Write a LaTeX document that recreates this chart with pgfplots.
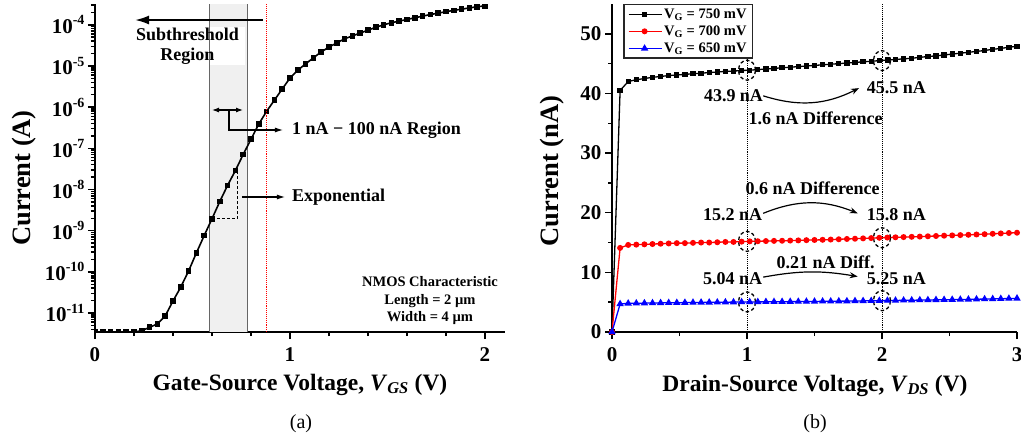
\documentclass[border=0pt]{standalone}
\usepackage{fontspec}
\setmainfont{Liberation Serif}
\usepackage{pgfplots}
\usepackage{pgfplotstable}
\pgfplotsset{compat=1.18}
\usetikzlibrary{arrows.meta}

\newcommand{\tickfont}{\fontsize{21}{24}\selectfont\bfseries}
\newcommand{\annfont}{\fontsize{18}{21}\selectfont\bfseries}
\newcommand{\smfont}{\fontsize{14.5}{17.5}\selectfont\bfseries}
\newcommand{\xlabfont}{\fontsize{23.5}{28}\selectfont\bfseries}
\newcommand{\ylabfont}{\fontsize{26.5}{30}\selectfont\bfseries}
\newcommand{\sx}[1]{\raisebox{0.42em}{\fontsize{14}{14}\selectfont\bfseries #1}}

\pgfplotstableread{
x y
0.00 3.45e-12
0.04 3.45e-12
0.08 3.45e-12
0.12 3.45e-12
0.16 3.45e-12
0.20 3.45e-12
0.24 3.7e-12
0.28 4.5e-12
0.32 5.4e-12
0.36 8.5e-12
0.40 1.95e-11
0.44 4.27e-11
0.48 1.05e-10
0.52 2.88e-10
0.56 7.6e-10
0.60 1.95e-9
0.64 5.1e-9
0.68 1.26e-8
0.72 2.88e-8
0.76 7.1e-8
0.80 1.66e-7
0.84 3.9e-7
0.88 7.9e-7
0.92 1.48e-6
0.96 2.75e-6
1.00 5.1e-6
1.04 7.9e-6
1.08 1.12e-5
1.12 1.58e-5
1.16 2.19e-5
1.20 2.88e-5
1.24 3.63e-5
1.28 4.57e-5
1.32 5.37e-5
1.36 6.31e-5
1.40 7.41e-5
1.44 8.71e-5
1.48 1.0e-4
1.52 1.12e-4
1.56 1.23e-4
1.60 1.35e-4
1.64 1.48e-4
1.68 1.62e-4
1.72 1.78e-4
1.76 1.91e-4
1.80 2.09e-4
1.84 2.24e-4
1.88 2.40e-4
1.92 2.57e-4
1.96 2.75e-4
2.00 2.88e-4
}\ida

\pgfplotstableread{
x k r b
0.00 0 0 0
0.06 40.5 14.1 4.7
0.12 42.0 14.6 4.8
0.18 42.3 14.65 4.82
0.24 42.5 14.7 4.84
0.30 42.7 14.75 4.86
0.36 42.85 14.8 4.88
0.42 43.0 14.85 4.9
0.48 43.1 14.9 4.91
0.54 43.2 14.9 4.93
0.60 43.3 14.95 4.94
0.66 43.4 15.0 4.96
0.72 43.5 15.0 4.97
0.78 43.6 15.05 4.98
0.84 43.7 15.1 5.0
0.90 43.75 15.1 5.01
0.96 43.85 15.15 5.03
1.02 43.9 15.2 5.04
1.08 44.0 15.22 5.05
1.14 44.1 15.25 5.06
1.20 44.2 15.28 5.07
1.26 44.3 15.3 5.08
1.32 44.4 15.33 5.09
1.38 44.5 15.36 5.1
1.44 44.6 15.4 5.11
1.50 44.7 15.43 5.12
1.56 44.8 15.46 5.14
1.62 44.9 15.5 5.15
1.68 45.0 15.55 5.17
1.74 45.1 15.6 5.18
1.80 45.2 15.64 5.2
1.86 45.3 15.7 5.22
1.92 45.4 15.75 5.23
1.98 45.5 15.8 5.25
2.04 45.6 15.84 5.27
2.10 45.7 15.88 5.29
2.16 45.8 15.92 5.31
2.22 45.9 15.96 5.33
2.28 46.05 16.0 5.35
2.34 46.2 16.05 5.37
2.40 46.3 16.1 5.39
2.46 46.45 16.15 5.41
2.52 46.6 16.2 5.43
2.58 46.75 16.25 5.45
2.64 46.9 16.3 5.47
2.70 47.05 16.35 5.5
2.76 47.2 16.4 5.52
2.82 47.4 16.47 5.55
2.88 47.55 16.53 5.58
2.94 47.75 16.6 5.61
3.00 47.9 16.65 5.64
}\idb

\pgfplotsset{
  mystyle/.style={
    scale only axis, anchor=south west,
    axis lines*=left, axis line style={line width=2pt,-},
    tick align=outside, major tick length=7pt, minor tick length=4pt,
    every tick/.style={black, line width=1.4pt},
    ticklabel style={font=\tickfont},
    /pgf/number format/assume math mode=true,
  }
}

\begin{document}
\begin{tikzpicture}
\useasboundingbox (0pt,0pt) rectangle (1021pt,440pt);

% ---------------- panel (a)
\begin{axis}[mystyle,
  at={(95pt,108pt)}, width=410pt, height=328pt,
  xmin=0, xmax=2.1026, ymode=log, ymin=3.45e-12, ymax=3.2e-4,
  xtick={0,1,2}, minor xtick={0.2,0.4,0.6,0.8,1.2,1.4,1.6,1.8},
  ytick={1e-11,1e-10,1e-9,1e-8,1e-7,1e-6,1e-5,1e-4},
  yticklabels={10\sx{-11},10\sx{-10},10\sx{-9},10\sx{-8},10\sx{-7},10\sx{-6},10\sx{-5},10\sx{-4}},
  minor ytick={4e-12,5e-12,6e-12,7e-12,8e-12,9e-12,
    2e-11,3e-11,4e-11,5e-11,6e-11,7e-11,8e-11,9e-11,
    2e-10,3e-10,4e-10,5e-10,6e-10,7e-10,8e-10,9e-10,
    2e-9,3e-9,4e-9,5e-9,6e-9,7e-9,8e-9,9e-9,
    2e-8,3e-8,4e-8,5e-8,6e-8,7e-8,8e-8,9e-8,
    2e-7,3e-7,4e-7,5e-7,6e-7,7e-7,8e-7,9e-7,
    2e-6,3e-6,4e-6,5e-6,6e-6,7e-6,8e-6,9e-6,
    2e-5,3e-5,4e-5,5e-5,6e-5,7e-5,8e-5,9e-5,
    2e-4,3e-4},
  xticklabel style={yshift=-5pt},
  clip marker paths=true,
]
\fill[black!6] (rel axis cs:0.2782,0) rectangle (rel axis cs:0.371,1);
\fill[white] (rel axis cs:0.2805,0.814) rectangle (rel axis cs:0.366,0.930);
\draw[black!60, line width=0.9pt] (rel axis cs:0.2782,0) -- (rel axis cs:0.2782,1);
\draw[black!60, line width=0.9pt] (rel axis cs:0.371,0) -- (rel axis cs:0.371,1);
\addplot[draw=black, line width=1.6pt, mark=square*, mark size=2pt, mark options={solid, draw=black, fill=black}] table[x=x,y=y] {\ida};
\begin{scope}
\draw[color=red, densely dotted, line width=0.9pt] (rel axis cs:0.4185,0) -- (rel axis cs:0.4185,1);
\end{scope}
\node[font=\annfont, align=center, inner sep=0pt, text=black] at (rel axis cs:0.2256,0.872) {Subthreshold\\[-1pt]Region};
\draw[black, line width=2pt, -{Latex[length=14pt,width=9pt]}] (rel axis cs:0.4098,0.9512) -- (rel axis cs:0.0976,0.9512);
\draw[black, line width=1.1pt, {Latex[length=7pt,width=5pt]}-{Latex[length=7pt,width=5pt]}] (rel axis cs:0.2854,0.6768) -- (rel axis cs:0.361,0.6768);
\draw[black, line width=1.1pt, -{Latex[length=8pt,width=5pt]}] (rel axis cs:0.3268,0.6768) -- (rel axis cs:0.3268,0.6159) -- (rel axis cs:0.4585,0.6159);
\node[font=\annfont, anchor=west, inner sep=0pt] at (rel axis cs:0.4805,0.6159) {1 nA − 100 nA Region};
\draw[black, line width=1.1pt, -{Latex[length=8pt,width=5pt]}] (rel axis cs:0.3585,0.4116) -- (rel axis cs:0.4634,0.4116);
\node[font=\annfont, anchor=west, inner sep=0pt] at (rel axis cs:0.4805,0.4116) {Exponential};
\draw[black, line width=1.1pt, dash pattern=on 3pt off 2pt] (axis cs:0.6,1.95e-9) -- (axis cs:0.73,1.95e-9) -- (axis cs:0.73,2.88e-8);
\node[font=\smfont, align=center, inner sep=0pt] at (rel axis cs:0.817,0.0945) {NMOS Characteristic\\Length = 2 µm\\Width = 4 µm};
\end{axis}

% ---------------- panel (b)
\begin{axis}[mystyle,
  at={(612pt,108pt)}, width=405pt, height=328pt,
  xmin=0, xmax=3, ymin=0, ymax=55,
  xtick={0,1,2,3}, minor xtick={0.5,1.5,2.5},
  ytick={0,10,20,30,40,50}, minor ytick={5,15,25,35,45},
  xticklabel style={yshift=-5pt},
  legend style={at={(0.028,1)}, anchor=north west, draw=black!85, line width=1.2pt,
    font=\smfont, fill=white, inner xsep=4pt, inner ysep=2pt, row sep=2pt,
    cells={anchor=west}},
  legend image code/.code={\draw[mark repeat=2,mark phase=2,#1] plot coordinates {(0pt,0pt) (16pt,0pt) (33pt,0pt)};},
]
\draw[black, densely dotted, line width=0.9pt] (axis cs:1,0) -- (axis cs:1,55);
\draw[black, densely dotted, line width=0.9pt] (axis cs:2,0) -- (axis cs:2,55);
\addplot[black, line width=1.3pt, mark=square*, mark size=2pt] table[x=x,y=k] {\idb};
\addlegendentry{V\textsubscript{G} = 750 mV}
\addplot[red, line width=1.3pt, mark=*, mark size=2.3pt] table[x=x,y=r] {\idb};
\addlegendentry{V\textsubscript{G} = 700 mV}
\addplot[blue, line width=1.3pt, mark=triangle*, mark size=3pt] table[x=x,y=b] {\idb};
\addlegendentry{V\textsubscript{G} = 650 mV}
\draw[black, line width=1.3pt, dash pattern=on 3.5pt off 2.5pt] (axis cs:1,43.9) ellipse [x radius=8.5pt, y radius=10pt];
\draw[black, line width=1.3pt, dash pattern=on 3.5pt off 2.5pt] (axis cs:2,45.5) ellipse [x radius=8.5pt, y radius=10pt];
\draw[black, line width=1.3pt, dash pattern=on 3.5pt off 2.5pt] (axis cs:1,15.2) ellipse [x radius=8.5pt, y radius=10pt];
\draw[black, line width=1.3pt, dash pattern=on 3.5pt off 2.5pt] (axis cs:2,15.8) ellipse [x radius=8.5pt, y radius=10pt];
\draw[black, line width=1.3pt, dash pattern=on 3.5pt off 2.5pt] (axis cs:1,5.04) ellipse [x radius=8.5pt, y radius=10pt];
\draw[black, line width=1.3pt, dash pattern=on 3.5pt off 2.5pt] (axis cs:2,5.25) ellipse [x radius=8.5pt, y radius=10pt];
\node[font=\annfont] at (axis cs:0.90,39.6) {43.9 nA};
\node[font=\annfont] at (axis cs:2.107,40.9) {45.5 nA};
\node[font=\annfont] at (axis cs:1.508,35.9) {1.6 nA Difference};
\node[font=\annfont] at (axis cs:1.486,24.1) {0.6 nA Difference};
\node[font=\annfont] at (axis cs:0.894,19.6) {15.2 nA};
\node[font=\annfont] at (axis cs:2.107,19.6) {15.8 nA};
\node[font=\annfont] at (axis cs:1.582,11.7) {0.21 nA Diff.};
\node[font=\annfont] at (axis cs:0.894,8.9) {5.04 nA};
\node[font=\annfont] at (axis cs:2.107,8.9) {5.25 nA};
\draw[black, line width=1.2pt, -{Stealth[length=8pt,width=6pt]}] (axis cs:1.12,39.6) to[bend right=22] (axis cs:1.83,40.9);
\draw[black, line width=1.2pt, -{Stealth[length=8pt,width=6pt]}] (axis cs:1.12,19.9) to[bend left=22] (axis cs:1.82,19.9);
\draw[black, line width=1.2pt, -{Stealth[length=8pt,width=6pt]}] (axis cs:1.12,9.2) to[bend left=10] (axis cs:1.82,9.3);
\end{axis}

% ---------------- labels
\node[font=\ylabfont, rotate=90] at (24pt,262pt) {Current (A)};
\node[font=\ylabfont, rotate=90] at (552pt,269pt) {Current (nA)};
\node[font=\xlabfont, anchor=base] at (300pt,50pt) {Gate-Source Voltage, \textit{V}\textsubscript{\textit{GS}} (V)};
\node[font=\xlabfont, anchor=base] at (815pt,49pt) {Drain-Source Voltage, \textit{V}\textsubscript{\textit{DS}} (V)};
\node[font=\fontsize{20}{24}\selectfont, anchor=base] at (301pt,12pt) {(a)};
\node[font=\fontsize{20}{24}\selectfont, anchor=base] at (815pt,12pt) {(b)};
\end{tikzpicture}
\end{document}
